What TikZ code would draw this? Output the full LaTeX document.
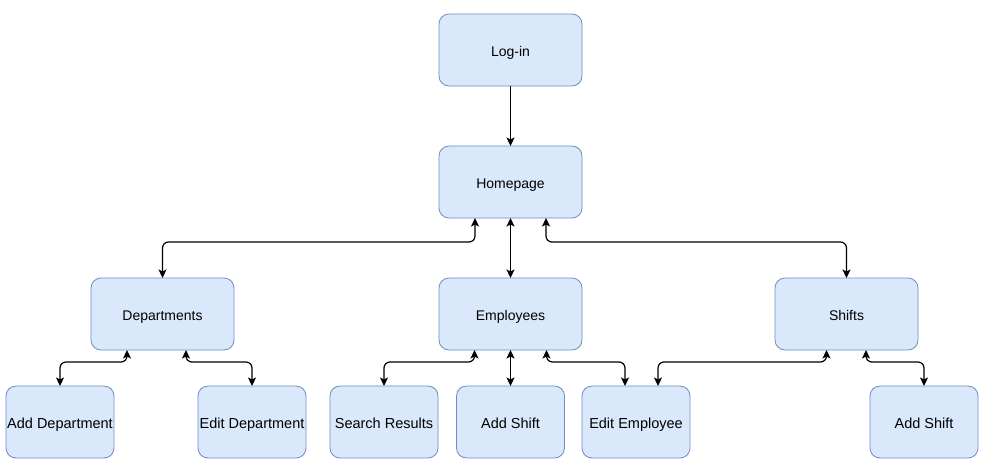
\documentclass[tikz,border=0pt]{standalone}
\usepackage{fontspec}
\setmainfont{Liberation Sans}
\usetikzlibrary{arrows.meta, positioning}
\definecolor{boxfill}{HTML}{DAE8FC}
\definecolor{boxline}{HTML}{6C8EBF}

\begin{document}
\begin{tikzpicture}[x=1pt,y=-1pt,<->,>={Stealth[length=8.5pt,width=8pt,inset=2pt]},line width=1.2pt,
    page node/.style={rectangle,rounded corners=10pt,draw=boxline,fill=boxfill,line width=0.8pt,minimum height=72pt,inner sep=0.5pt,outer sep=0pt,text height=13pt,text depth=1pt},
    main node/.style={page node,minimum width=143pt,font=\fontsize{14pt}{16pt}\selectfont},
    sub node/.style={page node,minimum width=108pt,font=\fontsize{14.5pt}{17pt}\selectfont},
    elbow/.style={rounded corners=6pt,to path={-- ++(0,#1) -| (\tikztotarget)}}, elbow/.default=24]

\useasboundingbox (0,0) rectangle (995,474);
\node[main node]    (login)                          at (510.5,50)   {Log-in};
\node[main node]    (home)      [below=60pt of login]                {Homepage};
\node[main node]    (emp)       [below=60pt of home]                 {Employees};
\node[main node]    (dept)                           at (162.5,314)  {Departments};
\node[main node]    (shifts)                         at (846.5,314)  {Shifts};
\node[sub node]     (adddept)                        at (60,422)     {Add Department};
\node[sub node]     (editdept)                       at (252,422)    {Edit Department};
\node[sub node]     (search)                         at (384,422)    {Search Results};
\node[sub node]     (addshift)  [below=36pt of emp]                  {Add Shift};
\node[sub node]     (editemp)                        at (636,422)    {Edit Employee};
\node[sub node]     (addshift2)                      at (924,422)    {Add Shift};

\path[]
(login) edge[->] (home)
(home) edge (emp)
(emp) edge (addshift)
([xshift=-35.5pt]home.south) edge[elbow] (dept)
([xshift=35.5pt]home.south) edge[elbow] (shifts)
([xshift=-35.5pt]dept.south) edge[elbow=12] (adddept)
([xshift=23.5pt]dept.south) edge[elbow=12] (editdept)
([xshift=-36pt]emp.south) edge[elbow=12] (search)
([xshift=36pt]emp.south) edge[elbow=12] ([xshift=-11pt]editemp.north)
([xshift=-20pt]shifts.south) edge[elbow=12] ([xshift=22pt]editemp.north)
([xshift=19.5pt]shifts.south) edge[elbow=12] (addshift2);
\end{tikzpicture}
\end{document}
